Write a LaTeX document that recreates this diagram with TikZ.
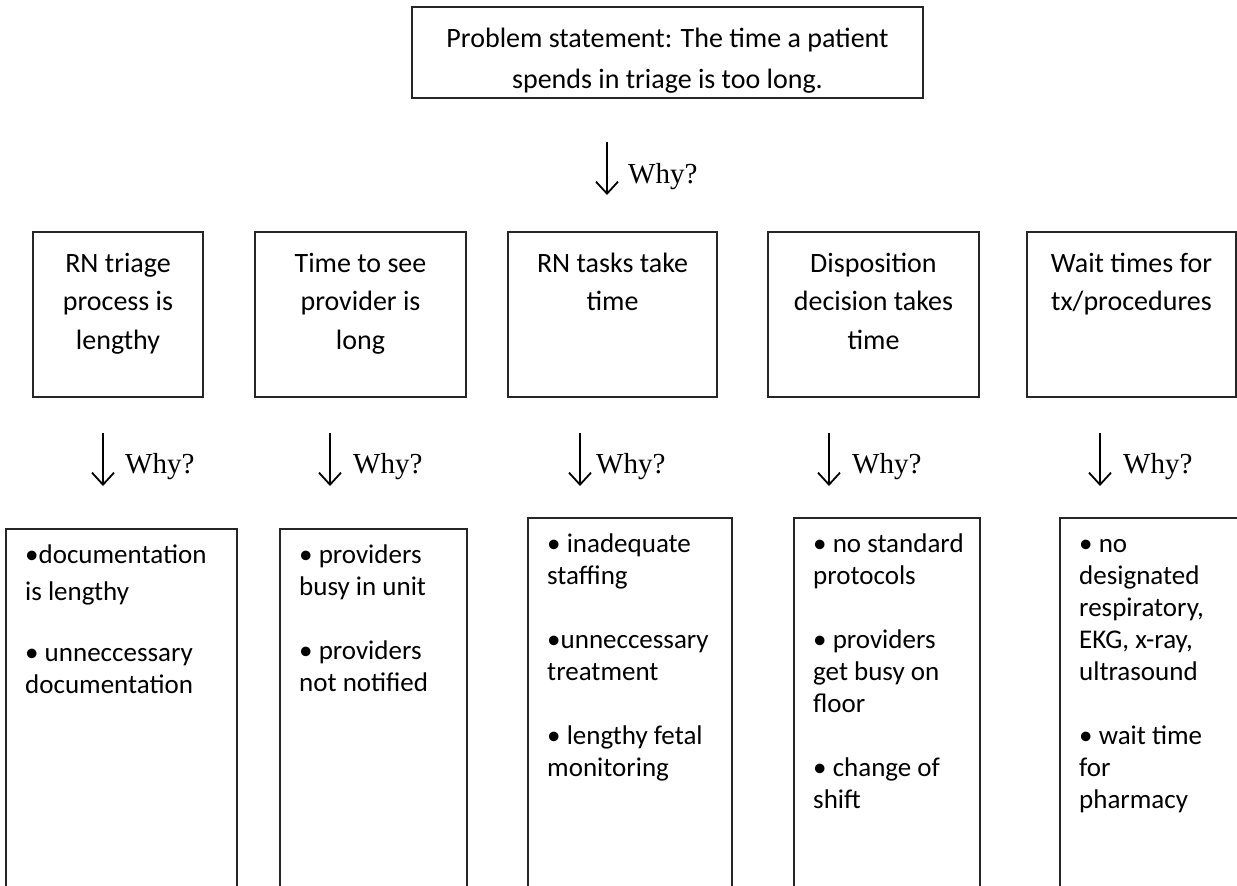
\documentclass[tikz,border=0pt]{standalone}
\usepackage{fontspec}
\setmainfont{Carlito}
\newfontfamily\whyfont{Liberation Serif}
\usetikzlibrary{arrows.meta,positioning}

\begin{document}
\begin{tikzpicture}[x=1pt,y=-1pt]
    \tikzstyle{probbox} = [draw=black!85, line width=1.5pt, minimum width=511pt, minimum height=91pt];
    \tikzstyle{probtext} = [align=center, inner sep=0pt, font=\fontsize{28}{41}\selectfont];
    \tikzstyle{causebox} = [draw=black!85, line width=1.5pt, minimum height=165pt];
    \tikzstyle{causetext} = [align=center, inner sep=0pt, font=\fontsize{28}{38.5}\selectfont];
    \tikzstyle{reasonbox} = [draw=black!85, line width=1.5pt, anchor=north west, minimum height=380pt];
    \tikzstyle{reasontext} = [align=left, inner sep=0pt, font=\fontsize{27}{32}\selectfont];
    \tikzstyle{why} = [anchor=base west, inner sep=0pt, font=\whyfont\fontsize{29}{29}\selectfont];
    \tikzstyle{whyarrow} = [-{Straight Barb[length=12pt,width=22pt]}, line width=1.8pt];

    \clip (0,0) rectangle (1237,886);

    \node[probbox](P) at (667.5,52.5) {};
    \node[probtext, below=21.5pt of P.north](PT) {Problem statement: The time a patient\\spends in triage is too long.};

    % second row
    \node[causebox, minimum width=170pt](C1) at (118,314.5) {};
    \node[causebox, minimum width=211pt](C2) at (360.5,314.5) {};
    \node[causebox, minimum width=209pt](C3) at (612.5,314.5) {};
    \node[causebox, minimum width=211pt](C4) at (873.5,314.5) {};
    \node[causebox, minimum width=209pt](C5) at (1131.5,314.5) {};

    \node[causetext, below=21.5pt of C1.north](T1) {RN triage\\process is\\lengthy};
    \node[causetext, below=21.5pt of C2.north](T2) {Time to see\\provider is\\long};
    \node[causetext, below=21.5pt of C3.north](T3) {RN tasks take\\time};
    \node[causetext, below=21.5pt of C4.north](T4) {Disposition\\decision takes\\time};
    \node[causetext, below=21.5pt of C5.north](T5) {Wait times for\\tx/procedures};

    % third row
    \node[reasonbox, minimum width=231pt](R1) at (5,528) {};
    \node[reasonbox, minimum width=187pt](R2) at (279,528) {};
    \node[reasonbox, minimum width=204pt](R3) at (527,517) {};
    \node[reasonbox, minimum width=186pt](R4) at (793,517) {};
    \node[reasonbox, minimum width=190pt](R5) at (1059,517) {};

    \node[reasontext, below right=17pt and 20pt of R1.north west](L1) {•documentation\\[5pt]is lengthy\\[29pt]• unneccessary\\documentation};
    \node[reasontext, below right=17pt and 20pt of R2.north west](L2) {• providers\\busy in unit\\[32pt]• providers\\not notified};
    \node[reasontext, below right=17pt and 20pt of R3.north west](L3) {• inadequate\\staffing\\[32pt]•unneccessary\\treatment\\[32pt]• lengthy fetal\\monitoring};
    \node[reasontext, below right=17pt and 20pt of R4.north west](L4) {• no standard\\protocols\\[32pt]• providers\\get busy on\\floor\\[32pt]• change of\\shift};
    \node[reasontext, below right=17pt and 20pt of R5.north west](L5) {\vphantom{d}• no\\designated\\respiratory,\\EKG, x-ray,\\ultrasound\\[32pt]• wait time\\for\\pharmacy};

    % why arrows
    \node[why](W0) at (628,183) {Why?};
    \node[why](W1) at (125,473) {Why?};
    \node[why](W2) at (353,473) {Why?};
    \node[why](W3) at (596,473) {Why?};
    \node[why](W4) at (852,473) {Why?};
    \node[why](W5) at (1123,473) {Why?};

    \coordinate (A0) at (607,142); \coordinate (B0) at (607,195);
    \coordinate (A1) at (103,433); \coordinate (B1) at (103,486);
    \coordinate (A2) at (330,433); \coordinate (B2) at (330,486);
    \coordinate (A3) at (580,433); \coordinate (B3) at (580,486);
    \coordinate (A4) at (829,433); \coordinate (B4) at (829,486);
    \coordinate (A5) at (1100,433); \coordinate (B5) at (1100,486);

    \foreach \i in {0,...,5}
        \draw[whyarrow] (A\i) -- (B\i);
\end{tikzpicture}
\end{document}
